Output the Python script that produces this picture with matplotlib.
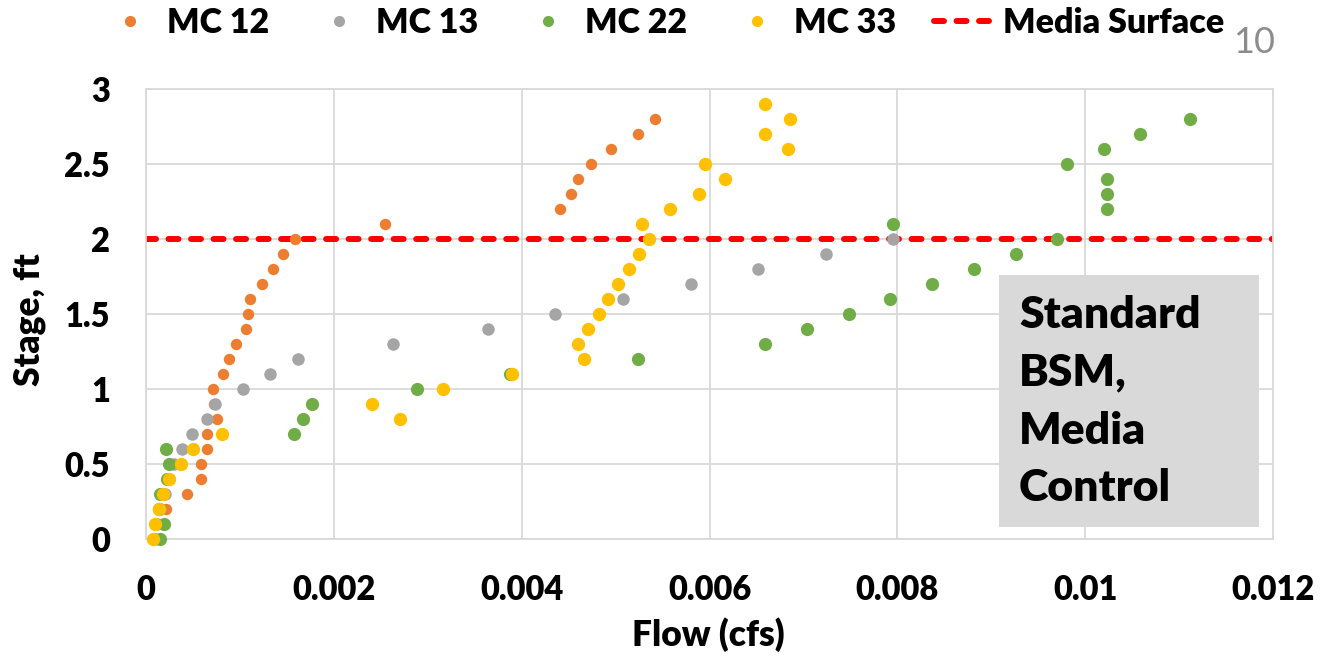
import matplotlib
matplotlib.use("Agg")
import matplotlib.pyplot as plt
from matplotlib.lines import Line2D
from matplotlib.patches import Rectangle

plt.rcParams['font.family'] = ['Lato', 'DejaVu Sans']

# data (some points near the origin are hidden under others)
mc12_stage = [0.0, 0.1, 0.2, 0.3, 0.4, 0.5, 0.6, 0.7, 0.8, 0.9, 1.0, 1.1, 1.2, 1.3, 1.4,
              1.5, 1.6, 1.7, 1.8, 1.9, 2.0, 2.1, 2.2, 2.3, 2.4, 2.5, 2.6, 2.7, 2.8]
mc12_flow = [0.00009, 0.00013, 0.00021, 0.00044, 0.00059, 0.00059, 0.00065, 0.00065, 0.00076,
             0.00072, 0.00071, 0.00082, 0.00088, 0.00096, 0.00106, 0.00109, 0.00111, 0.00124,
             0.00135, 0.00146, 0.00159, 0.00255, 0.00441, 0.00453, 0.00460, 0.00474, 0.00495,
             0.00524, 0.00542]

mc13_stage = [0.0, 0.1, 0.2, 0.3, 0.4, 0.5, 0.6, 0.7, 0.8, 0.9, 1.0, 1.1, 1.2, 1.3, 1.4,
              1.5, 1.6, 1.7, 1.8, 1.9, 2.0]
mc13_flow = [0.00010, 0.00012, 0.00015, 0.00020, 0.00024, 0.00030, 0.00038, 0.00049, 0.00065,
             0.00074, 0.00103, 0.00132, 0.00162, 0.00263, 0.00364, 0.00436, 0.00508, 0.00580,
             0.00652, 0.00724, 0.00795]

mc22_stage = [0.0, 0.1, 0.2, 0.3, 0.4, 0.5, 0.6, 0.7, 0.8, 0.9, 1.0, 1.1, 1.2, 1.3, 1.4,
              1.5, 1.6, 1.7, 1.8, 1.9, 2.0, 2.1, 2.2, 2.3, 2.4, 2.5, 2.6, 2.7, 2.8]
mc22_flow = [0.00015, 0.00019, 0.00014, 0.00015, 0.00022, 0.00025, 0.00021, 0.00158, 0.00167,
             0.00177, 0.00289, 0.00388, 0.00524, 0.00659, 0.00704, 0.00749, 0.00792, 0.00837,
             0.00882, 0.00926, 0.00970, 0.00795, 0.01023, 0.01023, 0.01023, 0.00981, 0.01020,
             0.01058, 0.01112]

mc33_stage = [0.0, 0.1, 0.2, 0.3, 0.4, 0.5, 0.6, 0.7, 0.8, 0.9, 1.0, 1.1, 1.2, 1.3, 1.4,
              1.5, 1.6, 1.7, 1.8, 1.9, 2.0, 2.1, 2.2, 2.3, 2.4, 2.5, 2.6, 2.7, 2.8, 2.9]
mc33_flow = [0.00007, 0.00010, 0.00014, 0.00018, 0.00025, 0.00037, 0.00050, 0.00081, 0.00270,
             0.00241, 0.00316, 0.00390, 0.00466, 0.00460, 0.00471, 0.00482, 0.00492, 0.00503,
             0.00514, 0.00525, 0.00536, 0.00528, 0.00558, 0.00589, 0.00616, 0.00595, 0.00684,
             0.00659, 0.00686, 0.00659]

media_surface = 2.0

x_ticks = [0, 0.002, 0.004, 0.006, 0.008, 0.01, 0.012]
x_labels = ["0", "0.002", "0.004", "0.006", "0.008", "0.01", "0.012"]
y_ticks = [0, 0.5, 1, 1.5, 2, 2.5, 3]
y_labels = ["0", "0.5", "1", "1.5", "2", "2.5", "3"]

W, H = 1327, 663
fig = plt.figure(figsize=(W / 100, H / 100), dpi=100)
ax = fig.add_axes([146 / W, 1 - 539 / H, (1273 - 146) / W, (539 - 89) / H])

grid_c = "#D9D9D9"
series = [
    ("MC 12", mc12_flow, mc12_stage, "#ED7D31", 8.2),
    ("MC 13", mc13_flow, mc13_stage, "#A5A5A5", 9.0),
    ("MC 22", mc22_flow, mc22_stage, "#70AD47", 9.5),
    ("MC 33", mc33_flow, mc33_stage, "#FFC000", 9.6),
]
for name, xs, ys, c, ms in series:
    ax.plot(xs, ys, "o", color=c, ms=ms, mec="none", clip_on=False, zorder=3)

ax.axhline(media_surface, color="#FF0000", lw=4.3, dashes=(1.67, 2.1),
           dash_capstyle="round", zorder=2)

ax.set_xlim(0, 0.012)
ax.set_ylim(0, 3)
ax.set_xticks(x_ticks)
ax.set_xticklabels(x_labels)
ax.set_yticks(y_ticks)
ax.set_yticklabels(y_labels)
ax.tick_params(length=0, labelsize=23.5)
ax.tick_params(axis="y", pad=26)
ax.tick_params(axis="x", pad=25)
for lab in ax.get_xticklabels() + ax.get_yticklabels():
    lab.set_fontweight("heavy")
ax.grid(True, color=grid_c, lw=1.3)
ax.set_axisbelow(True)
for sp in ax.spines.values():
    sp.set_color(grid_c)
    sp.set_linewidth(1.3)

fig.text(708 / W, 1 - 635 / H, "Flow (cfs)", ha="center", va="center",
         fontsize=25.5, fontweight="heavy")
fig.text(30 / W, 1 - 320 / H, "Stage, ft", ha="center", va="center",
         rotation=90, fontsize=25.5, fontweight="heavy")

# legend along the top
handles = [Line2D([], [], ls="none", marker="o", color=c, ms=8, mec="none")
           for _, _, _, c, _ in series]
handles.append(Line2D([], [], color="#FF0000", lw=4.3, dashes=(1.67, 2.1),
                      dash_capstyle="round"))
names = [s[0] for s in series] + ["Media Surface"]
leg = fig.legend(handles, names, loc="center left", bbox_to_anchor=(98 / W, 1 - 23 / H),
                 ncol=5, frameon=False, borderpad=0, borderaxespad=0,
                 handlelength=1.86, handletextpad=0.18, columnspacing=1.1,
                 prop={"size": 24.5, "weight": "heavy"})

# annotation box
fig.patches.append(Rectangle((999 / W, 1 - 527 / H), 260 / W, 252 / H,
                             transform=fig.transFigure, facecolor="#D9D9D9",
                             edgecolor="none", zorder=5))
box_lines = ["Standard", "BSM,", "Media", "Control"]
for i, t in enumerate(box_lines):
    fig.text(1019 / W, 1 - (328 + i * 57.8) / H, t, ha="left", va="baseline",
             fontsize=32, fontweight="heavy", zorder=6)

# slide number
fig.text(1275 / W, 1 - 53 / H, "10", ha="right", va="baseline", fontsize=26,
         color="#8C8C8C", fontweight="normal")

fig.savefig("out.png", dpi=100)
